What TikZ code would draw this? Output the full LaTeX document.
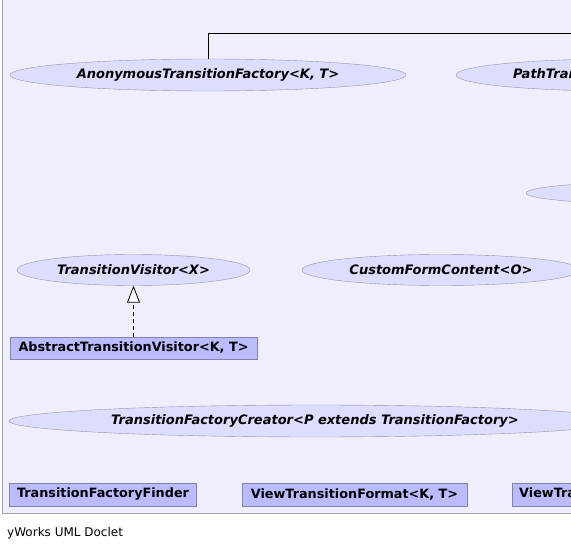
\documentclass[tikz,border=0pt]{standalone}
\usepackage{fontspec}
\setmainfont{DejaVu Sans}
\usetikzlibrary{shapes.geometric,arrows.meta}
\definecolor{panelfill}{RGB}{238,238,252}
\definecolor{panelline}{RGB}{160,160,176}
\definecolor{ellfill}{RGB}{221,221,255}
\definecolor{ellline}{RGB}{150,150,168}
\definecolor{boxfill}{RGB}{187,187,255}
\definecolor{boxline}{RGB}{130,130,170}
\tikzset{
  iface/.style={ellipse, draw=ellline, fill=ellfill, inner sep=0pt,
    font=\fontsize{13}{15}\selectfont\bfseries\itshape, text=black},
  classbox/.style={rectangle, draw=boxline, fill=boxfill, inner sep=0pt,
    font=\fontsize{12.8}{14}\selectfont\bfseries, text=black},
  link/.style={draw=black, line width=0.8pt},
  realize/.style={draw=black, line width=0.8pt, dash pattern=on 4pt off 3pt,
    -{Triangle[open, length=17pt, width=13pt, fill=white]}}
}
\begin{document}
\begin{tikzpicture}[x=1pt,y=-1pt]
\useasboundingbox (0,0) rectangle (571,551);
\clip (0,0) rectangle (571,551);
\draw[fill=panelfill, draw=panelline, line width=1pt] (2.5,-10) rectangle (620,513);

\node[iface, minimum width=396pt, minimum height=32pt] (anon) at (208,75) {AnonymousTransitionFactory<K, T>};
\node[iface, minimum width=324pt, minimum height=32pt] (path) at (618,75) {PathTransitionFactory<K, T>};
\node[iface, minimum width=320pt, minimum height=24pt] (third) at (686,193) {};
\node[iface, minimum width=233pt, minimum height=31pt] (visitor) at (133.5,270) {TransitionVisitor<X>};
\node[iface, minimum width=278pt, minimum height=31pt] (custom) at (441,270) {CustomFormContent<O>};
\node[iface, minimum width=612pt, minimum height=32pt] (creator) at (315,421) {TransitionFactoryCreator<P extends TransitionFactory>};

\node[classbox, minimum width=247pt, minimum height=22pt] (abstract) at (133.5,348) {AbstractTransitionVisitor<K, T>};
\node[classbox, minimum width=187pt, minimum height=23pt] (finder) at (103,494.5) {TransitionFactoryFinder};
\node[classbox, minimum width=225pt, minimum height=23pt] (format) at (354.5,494.5) {ViewTransitionFormat<K, T>};
\node[classbox, minimum height=23pt, anchor=west, align=left] (formatx) at (512,494.5) {\hspace*{7pt}ViewTransitionFormatFactory\hspace*{7pt}};

\coordinate (offright) at (600,33);
\draw[link] (anon.north) |- (offright);
\draw[realize] (abstract.north) -- (visitor.south);

\node[anchor=west, inner sep=0pt, font=\fontsize{12}{14}\selectfont] (credit) at (7,533) {yWorks UML Doclet};
\end{tikzpicture}
\end{document}
